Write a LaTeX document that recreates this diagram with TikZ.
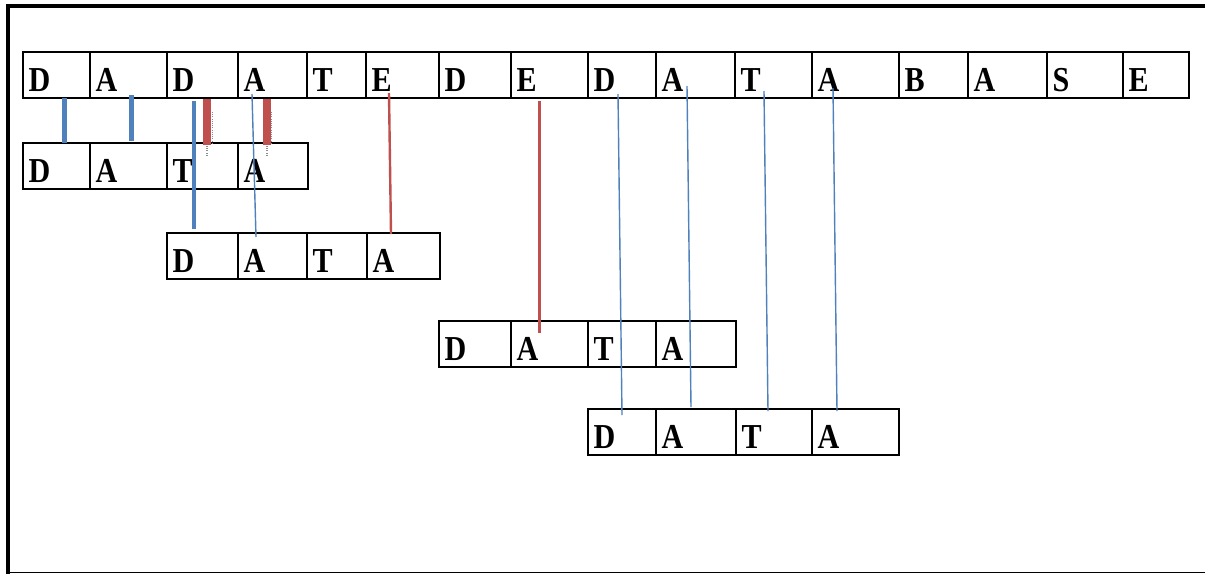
\documentclass[tikz,border=0pt]{standalone}
\usepackage{fontspec}
\newfontfamily\cellfont[FakeStretch=0.86]{Liberation Serif Bold}
\definecolor{linkblue}{HTML}{4F81BD}
\definecolor{linkred}{HTML}{C0504D}
\tikzset{
  cell/.style={draw=black, line width=2.4pt, inner sep=0pt, outer sep=0pt,
    minimum height=46pt, anchor=north west},
  letter/.style={font=\cellfont\fontsize{35}{35}\selectfont, inner sep=0pt,
    anchor=base west},
  bluethick/.style={draw=linkblue, line width=5pt},
  bluemid/.style={draw=linkblue, line width=3.5pt},
  bluethin/.style={draw=linkblue, line width=1.4pt},
  redthick/.style={draw=linkred, line width=8pt},
  redmid/.style={draw=linkred, line width=3pt},
  redthin/.style={draw=linkred, line width=2.4pt},
  fringe/.style={draw=black!45, line width=1.4pt, dash pattern=on 1pt off 1.2pt},
  framebar/.style={draw=black, line cap=butt},
}
% one row of character cells: name prefix, top y, list of left/right/letter/index
\newcommand{\cellrow}[3]{%
  \foreach \xa/\xb/\ch/\k in {#3} {
    \pgfmathsetmacro{\cw}{\xb-\xa}
    \node[cell, minimum width=\cw pt] (#1c\k) at (\xa,#2) {};
    \node[letter] (#1l\k) at ([xshift=5.5pt,yshift=7pt]#1c\k.south west) {\ch};
  }%
}
\begin{document}
\begin{tikzpicture}[x=1pt, y=-1pt]
\useasboundingbox (0,0) rectangle (1205,574);
\fill[white] (0,0) rectangle (1205,574);

% outer frame
\coordinate (ftl) at (8,4);
\coordinate (fbl) at (8,574);
\coordinate (ftr) at (1205,6);
\coordinate (fl) at (6,6);
\coordinate (fbr) at (1205,572.5);
\coordinate (fbs) at (8,572.5);
\draw[framebar, line width=4pt] (ftl) -- (fbl);
\draw[framebar, line width=4pt] (fl) -- (ftr);
\draw[framebar, line width=1.6pt] (fbs) -- (fbr);

% text being searched
\cellrow{r1}{52}{23/90/D/1, 90/167/A/2, 167/238/D/3, 238/307/A/4, 307/366/T/5,
  366/439/E/6, 439/511/D/7, 511/588/E/8, 588/656/D/9, 656/735/A/10,
  735/812/T/11, 812/899/A/12, 899/968/B/13, 968/1047/A/14, 1047/1123/S/15,
  1123/1189/E/16}
% successive placements of the pattern
\cellrow{r2}{143}{23/90/D/1, 90/167/A/2, 167/238/T/3, 238/308/A/4}
\cellrow{r3}{233}{167/238/D/1, 238/307/A/2, 307/367/T/3, 367/440/A/4}
\cellrow{r4}{321}{439/511/D/1, 511/588/A/2, 588/656/T/3, 656/736/A/4}
\cellrow{r5}{409}{588/656/D/1, 656/736/A/2, 736/812/T/3, 812/899/A/4}

% comparisons, first placement
\draw[bluethick] ([xshift=41pt]r1c1.south west) -- ([xshift=41pt]r2c1.north west);
\draw[bluethick] ([xshift=41pt,yshift=3pt]r1c2.south west) -- ([xshift=41pt,yshift=2pt]r2c2.north west);
\draw[fringe] ([xshift=45.5pt,yshift=-14pt]r1c3.south west) -- ([xshift=45.5pt,yshift=-2pt]r2c3.north west);
\draw[fringe] ([xshift=40pt,yshift=-3pt]r2c3.north west) -- ([xshift=40pt,yshift=-13pt]r2c3.north west);
\draw[redthick] ([xshift=40pt,yshift=-1pt]r1c3.south west) -- ([xshift=40pt,yshift=-2pt]r2c3.north west);
\draw[fringe] ([xshift=33.5pt,yshift=-14pt]r1c4.south west) -- ([xshift=33.5pt,yshift=-2pt]r2c4.north west);
\draw[fringe] ([xshift=29pt,yshift=-3pt]r2c4.north west) -- ([xshift=29pt,yshift=-13pt]r2c4.north west);
\draw[redthick] ([xshift=29pt,yshift=-1pt]r1c4.south west) -- ([xshift=29pt,yshift=-2pt]r2c4.north west);

% second placement
\draw[bluemid] ([xshift=27pt,yshift=-3pt]r1c3.south west) -- ([xshift=27pt,yshift=4pt]r3c1.north west);
\draw[bluethin] ([xshift=14pt,yshift=4pt]r1c4.south west) -- ([xshift=18pt,yshift=-4pt]r3c2.north west);
\draw[redthin] ([xshift=23pt,yshift=5pt]r1c6.south west) -- ([xshift=24pt,yshift=-1pt]r3c4.north west);

% third placement
\draw[redmid] ([xshift=28.5pt,yshift=-3pt]r1c8.south west) -- ([xshift=28.5pt,yshift=-12pt]r4c2.north west);

% fourth placement
\draw[bluethin] ([xshift=30pt,yshift=4pt]r1c9.south west) -- ([xshift=34pt,yshift=-6pt]r5c1.north west);
\draw[bluethin] ([xshift=31pt,yshift=12pt]r1c10.south west) -- ([xshift=35pt,yshift=2pt]r5c2.north west);
\draw[bluethin] ([xshift=29pt,yshift=7pt]r1c11.south west) -- ([xshift=32pt,yshift=-2pt]r5c3.north west);
\draw[bluethin] ([xshift=21pt,yshift=10pt]r1c12.south west) -- ([xshift=25pt,yshift=-2pt]r5c4.north west);
\end{tikzpicture}
\end{document}
